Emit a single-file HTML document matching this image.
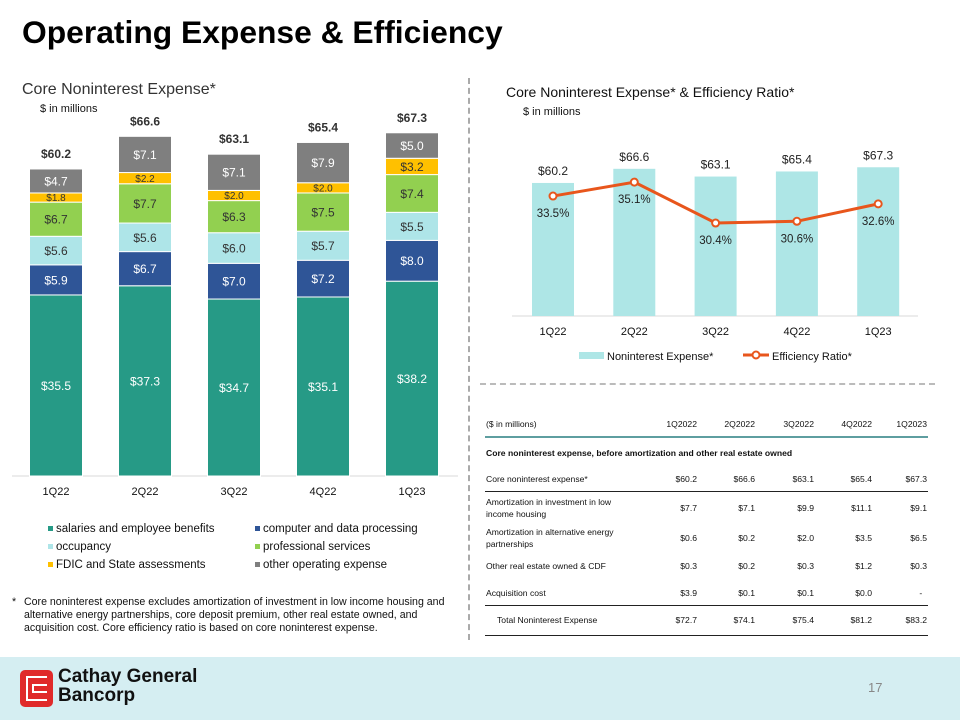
<!DOCTYPE html>
<html><head><meta charset="utf-8">
<style>
body{margin:0;width:960px;height:720px;overflow:hidden;background:#fff;font-family:"Liberation Sans",sans-serif;position:relative}
.a{position:absolute;white-space:nowrap}
table{border-collapse:collapse;table-layout:fixed}
td{padding:0 1px;line-height:12px}
td.l{padding-right:8px;white-space:normal}
</style></head><body>
<div class="a" style="left:22px;top:14px;font-size:31.8px;font-weight:bold;color:#000">Operating Expense &amp; Efficiency</div>
<div class="a" style="left:22px;top:81px;font-size:16px;color:#333">Core Noninterest Expense*</div>
<div class="a" style="left:40px;top:103px;font-size:11px;color:#111">$ in millions</div>
<div class="a" style="left:506px;top:84px;font-size:14px;color:#111">Core Noninterest Expense* &amp; Efficiency Ratio*</div>
<div class="a" style="left:523px;top:106px;font-size:11px;color:#111">$ in millions</div>
<div class="a" style="left:468px;top:78px;height:562px;border-left:2px dashed #aaa"></div>
<div class="a" style="left:480px;top:383px;width:455px;border-top:2px dashed #bbb"></div>

<svg class="a" style="left:0;top:0" width="960" height="660" id="charts"></svg>

<div class="a" style="left:12px;top:596px;font-size:10.6px;line-height:13px;color:#111">
<span style="position:absolute;left:0">*</span><div style="margin-left:12px">Core noninterest expense excludes amortization of investment in low income housing and<br>alternative energy partnerships, core deposit premium, other real estate owned, and<br>acquisition cost. Core efficiency ratio is based on core noninterest expense.</div></div>

<table class="a" style="left:485px;top:411px;width:443px;font-size:8.6px;color:#111">
<colgroup><col style="width:155px"><col style="width:58px"><col style="width:58px"><col style="width:59px"><col style="width:58px"><col style="width:55px"></colgroup>
<tr style="height:26px;border-bottom:2px solid #5e9ea0"><td class="l">($ in millions)</td><td align="right">1Q2022</td><td align="right">2Q2022</td><td align="right">3Q2022</td><td align="right">4Q2022</td><td align="right">1Q2023</td></tr>
<tr style="height:31px"><td colspan="6" style="font-weight:bold;white-space:nowrap">Core noninterest expense, before amortization and other real estate owned</td></tr>
<tr style="height:23px;border-bottom:1.5px solid #222"><td class="l">Core noninterest expense*</td><td align="right">$60.2</td><td align="right">$66.6</td><td align="right">$63.1</td><td align="right">$65.4</td><td align="right">$67.3</td></tr>
<tr style="height:34px"><td class="l">Amortization in investment in low income housing</td><td align="right">$7.7</td><td align="right">$7.1</td><td align="right">$9.9</td><td align="right">$11.1</td><td align="right">$9.1</td></tr>
<tr style="height:26px"><td class="l">Amortization in alternative energy partnerships</td><td align="right">$0.6</td><td align="right">$0.2</td><td align="right">$2.0</td><td align="right">$3.5</td><td align="right">$6.5</td></tr>
<tr style="height:30px"><td class="l">Other real estate owned &amp; CDF</td><td align="right">$0.3</td><td align="right">$0.2</td><td align="right">$0.3</td><td align="right">$1.2</td><td align="right">$0.3</td></tr>
<tr style="height:24px;border-bottom:1.5px solid #222"><td class="l">Acquisition cost</td><td align="right">$3.9</td><td align="right">$0.1</td><td align="right">$0.1</td><td align="right">$0.0</td><td align="right">-&nbsp;&nbsp;</td></tr>
<tr style="height:30px;border-bottom:1.5px solid #222"><td class="l" style="padding-left:12px">Total Noninterest Expense</td><td align="right">$72.7</td><td align="right">$74.1</td><td align="right">$75.4</td><td align="right">$81.2</td><td align="right">$83.2</td></tr>
</table>

<div class="a" style="left:0;top:657px;width:960px;height:63px;background:#d5eef2"></div>
<div class="a" style="left:20px;top:670px;width:33px;height:37px;background:#e02a2a;border-radius:5px">
<div style="position:absolute;left:6px;top:6px;width:21px;height:25px;border:2px solid #fff;border-right:none;box-sizing:border-box"></div>
<div style="position:absolute;left:12px;top:14px;width:15px;height:9px;border:2px solid #fff;border-right:none;box-sizing:border-box"></div></div>
<div class="a" style="left:58px;top:667px;font-size:19px;font-weight:bold;line-height:19px;color:#111">Cathay General<br>Bancorp</div>
<div class="a" style="left:868px;top:680px;font-size:13px;color:#888">17</div>

<script>
const categories=["1Q22","2Q22","3Q22","4Q22","1Q23"];
const seriesNames=["salaries and employee benefits","computer and data processing","occupancy","professional services","FDIC and State assessments","other operating expense"];
const salaries=[35.5,37.3,34.7,35.1,38.2];
const computer=[5.9,6.7,7.0,7.2,8.0];
const occupancy=[5.6,5.6,6.0,5.7,5.5];
const professional=[6.7,7.7,6.3,7.5,7.4];
const fdic=[1.8,2.2,2.0,2.0,3.2];
const other=[4.7,7.1,7.1,7.9,5.0];
const totals=[60.2,66.6,63.1,65.4,67.3];
const efficiency=[33.5,35.1,30.4,30.6,32.6];

const NS="http://www.w3.org/2000/svg";
const svg=document.getElementById('charts');
function mk(tag,attrs,txt){const e=document.createElementNS(NS,tag);for(const k in attrs)e.setAttribute(k,attrs[k]);if(txt!==undefined)e.textContent=txt;svg.appendChild(e);return e;}

const colors=["#269a86","#2f5597","#aee5e8","#92d050","#ffc000","#7f7f7f"];
const textCols=["#fff","#fff","#333","#333","#333","#fff"];
const stacks=[salaries,computer,occupancy,professional,fdic,other];
const lBase=476,lScale=5.1;
const lx=i=>56+i*89;
const ly=v=>lBase-v*lScale;
let ax=mk('line',{x1:12,x2:458,y1:lBase,y2:lBase,stroke:'#d9d9d9'});


categories.forEach((c,i)=>{
  let cum=0;
  stacks.forEach((s,k)=>{
    const v=s[i];
    const r=mk('rect',{x:lx(i)-26.5,y:ly(cum+v),width:53,height:v*lScale,fill:colors[k],stroke:'#fff','stroke-width':1});
    
    
    const fs=v<2.5?10:12;
    const t=mk('text',{x:lx(i),y:ly(cum+v/2)+fs*0.37,'text-anchor':'middle','font-size':fs,fill:textCols[k]},'$'+v.toFixed(1));
    
    
    cum+=v;
  });
  const tt=mk('text',{x:lx(i),y:ly(totals[i])-11,'text-anchor':'middle','font-size':12,'font-weight':'bold',fill:'#333'},'$'+totals[i].toFixed(1));
  
  
  const cl=mk('text',{x:lx(i),y:495,'text-anchor':'middle','font-size':11,fill:'#111'},c);
  
  
});
seriesNames.forEach((n,k)=>{
  const x=k%2?255:48, y=531+Math.floor(k/2)*18;
  const r=mk('rect',{x:x,y:y-5,width:5,height:5,fill:colors[k]});
  
  
  const t=mk('text',{x:x+8,y:y+1,'font-size':11.5,fill:'#111'},n);
  
  
});

const rBase=316,rScale=2.21;
const rx=i=>553+i*81.3;
const ry=v=>rBase-v*rScale;
const ey=v=>487.5-v*8.7;
let ax2=mk('line',{x1:512,x2:918,y1:rBase,y2:rBase,stroke:'#d9d9d9'});


categories.forEach((c,i)=>{
  const r=mk('rect',{x:rx(i)-21,y:ry(totals[i]),width:42,height:totals[i]*rScale,fill:'#aee6e6'});
  
  
  const t=mk('text',{x:rx(i),y:ry(totals[i])-8,'text-anchor':'middle','font-size':12,fill:'#222'},'$'+totals[i].toFixed(1));
  
  
  const cl=mk('text',{x:rx(i),y:335,'text-anchor':'middle','font-size':11,fill:'#111'},c);
  
  
});
const pl=mk('polyline',{points:efficiency.map((v,i)=>rx(i)+','+ey(v)).join(' '),fill:'none',stroke:'#e8561c','stroke-width':3});


efficiency.forEach((v,i)=>{
  const c=mk('circle',{cx:rx(i),cy:ey(v),r:3.5,fill:'#fff',stroke:'#e8561c','stroke-width':2});
  
  
  const t=mk('text',{x:rx(i),y:ey(v)+21,'text-anchor':'middle','font-size':11.5,fill:'#222'},v.toFixed(1)+'%');
  
  
});
let lr=mk('rect',{x:579,y:352,width:25,height:7,fill:'#aee6e6'});


let lt=mk('text',{x:607,y:360,'font-size':11,fill:'#111'},'Noninterest Expense*');


let ll=mk('line',{x1:743,x2:769,y1:355,y2:355,stroke:'#e8561c','stroke-width':3});


let lc=mk('circle',{cx:756,cy:355,r:3.5,fill:'#fff',stroke:'#e8561c','stroke-width':2});


let lt2=mk('text',{x:772,y:360,'font-size':11,fill:'#111'},'Efficiency Ratio*');


</script>
</body></html>
